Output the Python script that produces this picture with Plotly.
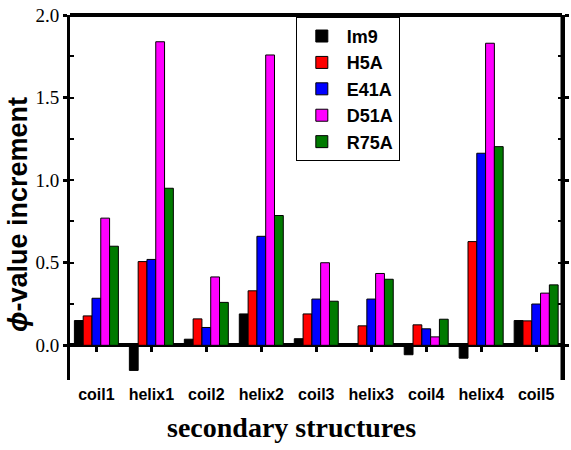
import plotly.graph_objects as go

categories = ["coil1", "helix1", "coil2", "helix2", "coil3", "helix3", "coil4", "helix4", "coil5"]
series_names = ["Im9", "H5A", "E41A", "D51A", "R75A"]
im9 = [0.15, -0.152, 0.037, 0.19, 0.04, 0.0, -0.057, -0.078, 0.15]
h5a = [0.178, 0.507, 0.16, 0.33, 0.19, 0.118, 0.124, 0.628, 0.148]
e41a = [0.285, 0.52, 0.108, 0.66, 0.28, 0.28, 0.10, 1.163, 0.25]
d51a = [0.77, 1.838, 0.414, 1.758, 0.50, 0.435, 0.051, 1.829, 0.316]
r75a = [0.60, 0.951, 0.26, 0.786, 0.267, 0.40, 0.158, 1.203, 0.366]
y_ticks = [0.0, 0.5, 1.0, 1.5, 2.0]

colors = ["#000000", "#ff0000", "#0000ff", "#ff00ff", "#007a00"]
all_series = [im9, h5a, e41a, d51a, r75a]

fig = go.Figure()
for name, vals, col in zip(series_names, all_series, colors):
    fig.add_trace(go.Bar(
        x=categories, y=vals, name=name,
        marker=dict(color=col, line=dict(color="black", width=1)),
    ))

y_lo, y_hi = -0.21, 2.0
zero_pos = -y_lo / (y_hi - y_lo)

fig.update_layout(
    width=571, height=450,
    margin=dict(l=70, r=9, t=15, b=70, autoexpand=False),
    paper_bgcolor="white", plot_bgcolor="white",
    barmode="group", bargap=0.2, bargroupgap=0.0,
    showlegend=True,
    legend=dict(
        x=0.459, y=0.995, xanchor="left", yanchor="top",
        bordercolor="black", borderwidth=1, bgcolor="white",
        font=dict(family="Liberation Sans", size=18, color="black", weight="bold"),
        itemwidth=40, tracegroupgap=0,
    ),
    xaxis=dict(
        type="category", range=[-0.48, 8.47],
        anchor="free", position=zero_pos, automargin=False,
        showline=False, showgrid=False, zeroline=False,
        ticks="outside", ticklen=6, tickwidth=3, tickcolor="black",
        ticklabelstandoff=28,
        tickfont=dict(family="Liberation Sans", size=16, color="black", weight="bold"),
    ),
    yaxis=dict(
        range=[y_lo, y_hi], automargin=False,
        tickvals=y_ticks, tickformat=".1f",
        showline=True, linecolor="black", linewidth=3, mirror="ticks",
        ticks="outside", ticklen=4, tickwidth=3, tickcolor="black",
        minor=dict(dtick=0.25, tick0=0.25, ticks="inside", ticklen=4, tickwidth=2, tickcolor="black"),
        showgrid=False,
        zeroline=True, zerolinecolor="black", zerolinewidth=4,
        tickfont=dict(family="Liberation Serif", size=19, color="black"),
    ),
    shapes=[
        dict(type="line", xref="paper", yref="paper", x0=0, x1=1, y0=1, y1=1,
             line=dict(color="black", width=4)),
        dict(type="line", xref="paper", yref="paper", x0=1, x1=1, y0=0, y1=1,
             line=dict(color="black", width=3)),
    ],
    annotations=[
        dict(text="secondary structures", xref="paper", yref="paper",
             x=(291 - 70) / 492, y=-(428 - 380) / 365, xanchor="center", yanchor="middle",
             showarrow=False,
             font=dict(family="Liberation Serif", size=28, color="black", weight="bold")),
        dict(text="<i>ϕ</i>-value increment", xref="paper", yref="paper",
             x=-(70 - 18) / 492, y=(380 - 215) / 365, xanchor="center", yanchor="middle",
             textangle=-90, showarrow=False,
             font=dict(family="Liberation Sans", size=27, color="black", weight="bold")),
    ],
)

fig.write_html("out.html", config={"displayModeBar": False},
               post_script="document.body.style.margin='0';")
